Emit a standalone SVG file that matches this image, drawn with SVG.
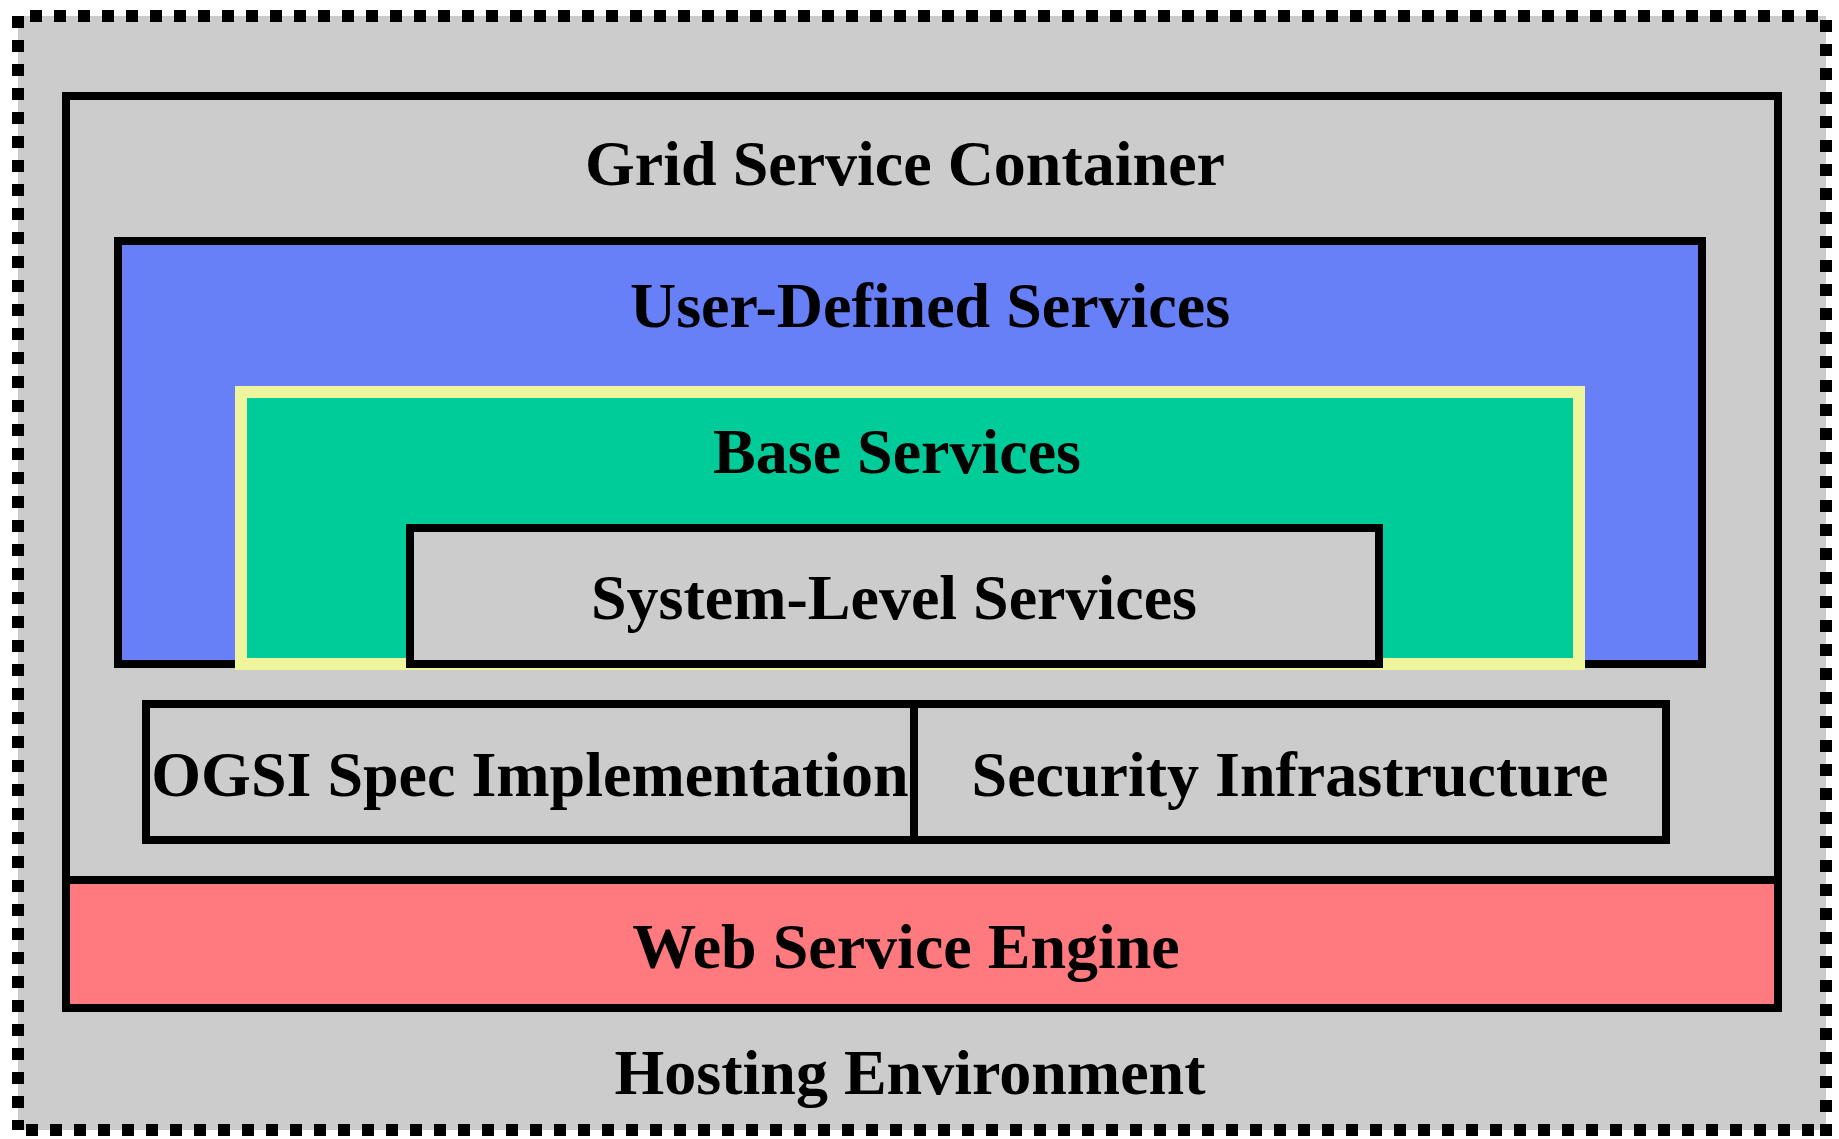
<svg xmlns="http://www.w3.org/2000/svg" width="1839" height="1139" viewBox="0 0 1839 1139">
<style>
.box{stroke:#000;stroke-width:8;}
.grey{fill:#CCCCCC;}
.dash{stroke:#000;stroke-width:12;stroke-dasharray:12 12;fill:none;}
.lbl{font-family:"Liberation Serif","Times New Roman",serif;font-weight:bold;font-size:64px;fill:#000;text-anchor:middle;}
</style>
<rect width="1839" height="1139" fill="#FFFFFF"/>
<g id="hosting-environment">
<rect x="18" y="16" width="1808" height="1114" class="grey"/>
<line x1="18" y1="16" x2="18" y2="1130" class="dash"/>
<line x1="30" y1="16" x2="1826" y2="16" class="dash"/>
<line x1="1826" y1="1136" x2="1826" y2="16" class="dash"/>
<line x1="1814" y1="1130" x2="18" y2="1130" class="dash"/>
<text x="910" y="1094" class="lbl">Hosting Environment</text>
</g>
<g id="grid-service-container">
<rect x="66" y="96" width="1712" height="912" class="box grey"/>
<text x="905" y="185" class="lbl">Grid Service Container</text>
</g>
<g id="web-service-engine">
<rect x="66" y="880" width="1712" height="128" class="box" fill="#FF7A7F"/>
<text x="906" y="968" class="lbl">Web Service Engine</text>
</g>
<g id="user-defined-services">
<rect x="118" y="241" width="1584" height="423" class="box" fill="#6780F7"/>
<text x="930" y="327" class="lbl">User-Defined Services</text>
</g>
<g id="base-services">
<rect x="241" y="392" width="1338" height="272" fill="#00CC99" stroke="#EEF59D" stroke-width="12"/>
<text x="897" y="473" class="lbl">Base Services</text>
</g>
<g id="system-level-services">
<rect x="410" y="528" width="969" height="136" class="box grey"/>
<text x="894" y="619" class="lbl">System-Level Services</text>
</g>
<g id="ogsi-spec">
<rect x="146" y="704" width="768" height="136" class="box grey"/>
<text x="530" y="796" class="lbl">OGSI Spec Implementation</text>
</g>
<g id="security-infrastructure">
<rect x="914" y="704" width="752" height="136" class="box grey"/>
<text x="1290" y="796" class="lbl">Security Infrastructure</text>
</g>
<g id="connectors"></g>
</svg>
